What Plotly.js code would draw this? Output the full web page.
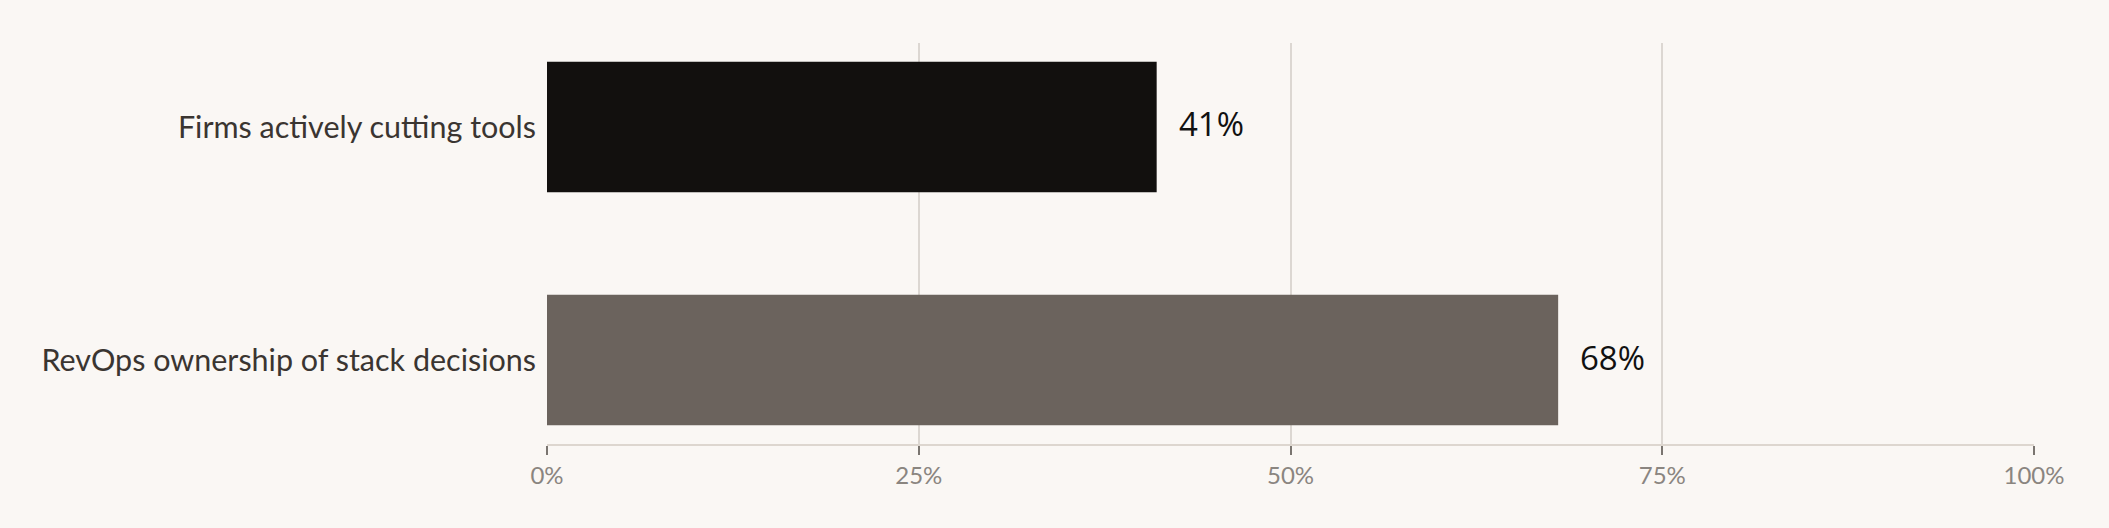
<!DOCTYPE html>
<html>
<head>
<meta charset="utf-8">
<script src="https://cdn.plot.ly/plotly-3.0.1.min.js"></script>
<style>
  html, body { margin: 0; padding: 0; background: #faf7f4; }
  #chart { width: 2109px; height: 528px; }
</style>
</head>
<body>
<div id="chart"></div>
<script>
// bottom to top
let categories = ["RevOps ownership of stack decisions", "Firms actively cutting tools"];
let shares = [68, 41];
let barColors = ["#6b635d", "#12100e"];

let bars = {
  type: "bar",
  orientation: "h",
  x: shares,
  y: categories,
  marker: { color: barColors },
  hoverinfo: "skip",
};

// value labels sit a little to the right of each bar end
let labels = shares.map((v, i) => ({
  x: v,
  y: categories[i],
  text: v + "%",
  showarrow: false,
  xanchor: "left",
  xshift: 20,
  yshift: 3,
  font: { family: "Open Sans, sans-serif", size: 33, color: "#111" },
}));

let layout = {
  width: 2109,
  height: 528,
  paper_bgcolor: "#faf7f4",
  plot_bgcolor: "#faf7f4",
  margin: { l: 547, r: 75, t: 43, b: 84 },
  bargap: 0.44,
  showlegend: false,
  font: { family: "Lato, sans-serif" },
  annotations: labels,
  xaxis: {
    range: [0, 100],
    dtick: 25,
    ticksuffix: "%",
    showgrid: true,
    gridcolor: "#dcd7d2",
    gridwidth: 1.5,
    zeroline: false,
    showline: true,
    linecolor: "#ddd6cf",
    linewidth: 2,
    ticks: "outside",
    ticklen: 9,
    tickwidth: 2,
    tickcolor: "#7a7570",
    tickfont: { family: "Lato, sans-serif", size: 24, color: "#8a8580" },
  },
  yaxis: {
    range: [-0.36, 1.36],
    showgrid: false,
    zeroline: false,
    showline: false,
    ticks: "",
    ticklabelstandoff: 10,
    tickfont: { family: "Lato, sans-serif", size: 30.5, color: "#3a3531" },
  },
};

Plotly.newPlot("chart", [bars], layout, { displaylogo: false, displayModeBar: false });
</script>
</body>
</html>
